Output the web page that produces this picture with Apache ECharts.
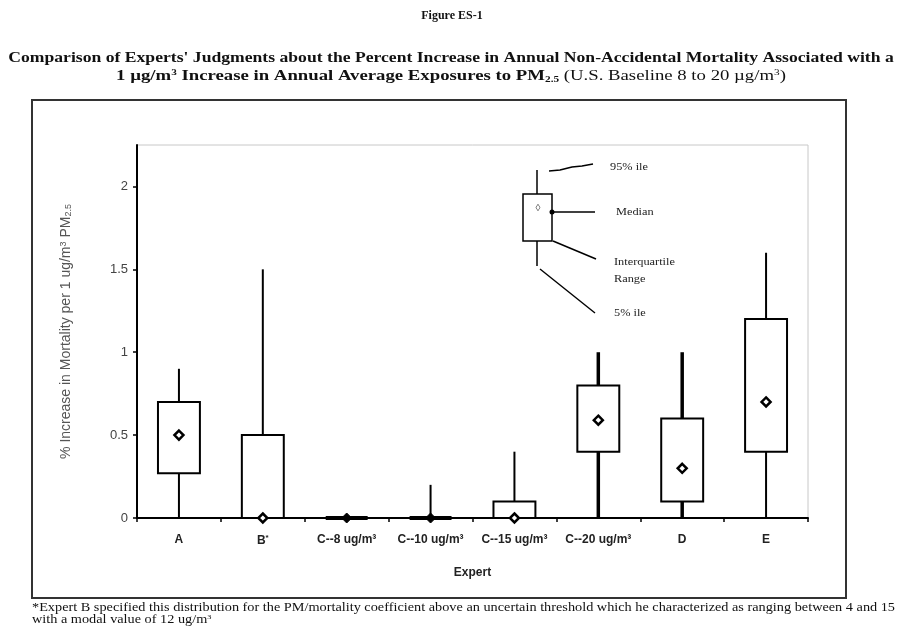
<!DOCTYPE html>
<html>
<head>
<meta charset="utf-8">
<title>Figure ES-1</title>
<script src="https://cdn.jsdelivr.net/npm/echarts@6/dist/echarts.min.js"></script>
<style>
html, body { margin: 0; padding: 0; background: #fff; }
#main { width: 902px; height: 627px; }
</style>
</head>
<body>
<div id="main"></div>
<script>
// experts and their distributions (% increase per 1 ug/m3 PM2.5)
var experts = ['A', 'B*', 'C--8 ug/m³', 'C--10 ug/m³', 'C--15 ug/m³', 'C--20 ug/m³', 'D', 'E'];
var pct05   = [0,    0,   0, 0,   0,   0,    0,   0];
var pct25   = [0.27, 0,   0, 0,   0,   0.4,  0.1, 0.4];
var median  = [0.5,  0,   0, 0,   0,   0.59, 0.3, 0.7];
var pct75   = [0.7,  0.5, 0, 0,   0.1, 0.8,  0.6, 1.2];
var pct95   = [0.9,  1.5, 0, 0.2, 0.4, 1.0,  1.0, 1.6];
var yTicks  = [0, 0.5, 1, 1.5, 2];

// whiskers drawn heavier in the original
var thickWhiskers = ['C--20 ug/m³', 'D'];

var boxData = [];
for (var i = 0; i < experts.length; i++) {
    boxData.push([i, pct05[i], pct25[i], median[i], pct75[i], pct95[i]]);
}

function diamond(cx, cy, r) {
    return [[cx, cy - r], [cx + r, cy], [cx, cy + r], [cx - r, cy]];
}

function renderBox(params, api) {
    var i = api.value(0);
    var half = api.size([1, 0])[0] * 0.25;
    var x = api.coord([i, 0])[0];
    var yLo = api.coord([i, api.value(1)])[1];
    var yQ1 = api.coord([i, api.value(2)])[1];
    var yMed = api.coord([i, api.value(3)])[1];
    var yQ3 = api.coord([i, api.value(4)])[1];
    var yHi = api.coord([i, api.value(5)])[1];
    var wl = thickWhiskers.indexOf(experts[i]) >= 0 ? 3.5 : 2;
    var flat = api.value(2) === api.value(4);
    var kids = [];
    kids.push({ type: 'line', shape: { x1: x, y1: yLo, x2: x, y2: yQ1 }, style: { stroke: '#000', lineWidth: wl } });
    kids.push({ type: 'line', shape: { x1: x, y1: yQ3, x2: x, y2: yHi }, style: { stroke: '#000', lineWidth: wl } });
    if (flat) {
        kids.push({ type: 'line', shape: { x1: x - half, y1: yQ1, x2: x + half, y2: yQ1 }, style: { stroke: '#000', lineWidth: 4 } });
        kids.push({ type: 'polygon', shape: { points: diamond(x, yMed, 5) }, style: { fill: '#000', stroke: '#000', lineWidth: 1 } });
    } else {
        kids.push({ type: 'rect', shape: { x: x - half, y: yQ3, width: half * 2, height: yQ1 - yQ3 }, style: { fill: '#fff', stroke: '#000', lineWidth: 2 } });
        kids.push({ type: 'polygon', shape: { points: diamond(x, yMed, 4.5) }, style: { fill: '#fff', stroke: '#000', lineWidth: 2.5 } });
    }
    return { type: 'group', children: kids };
}

var serif = '"Liberation Serif", "Times New Roman", serif';
var sans = '"Liberation Sans", Arial, sans-serif';

function keyText(x, y, s) {
    return { type: 'text', x: x, y: y, scaleX: 1.12, style: { text: s, font: '11px ' + serif, textVerticalAlign: 'middle', fill: '#222' } };
}

var myChart = echarts.init(document.getElementById('main'));
var option = {
    backgroundColor: '#fff',
    animation: false,
    grid: {
        left: 137, right: 94, top: 145, bottom: 109,
        show: true, borderColor: '#c8c8c8', borderWidth: 1, backgroundColor: 'transparent'
    },
    xAxis: {
        type: 'category',
        data: experts,
        boundaryGap: true,
        axisLine: { lineStyle: { color: '#000', width: 2 } },
        axisTick: { show: true, length: 4, lineStyle: { color: '#000', width: 1.5 } },
        axisLabel: {
            interval: 0, hideOverlap: false,
            margin: 16, color: '#222', fontFamily: sans, fontWeight: 'bold', fontSize: 12,
            formatter: function (v) { return v.replace('*', '{sup|*}'); },
            rich: { sup: { fontSize: 8, fontWeight: 'bold', verticalAlign: 'top', padding: [0, 0, 5, 0], fontFamily: sans, color: '#222' } }
        },
        name: 'Expert',
        nameLocation: 'middle',
        nameGap: 49,
        nameTextStyle: { fontFamily: sans, fontWeight: 'bold', fontSize: 12, color: '#222' }
    },
    yAxis: {
        type: 'value',
        min: 0,
        max: 2.25,
        splitLine: { show: false },
        axisLine: { show: true, lineStyle: { color: '#000', width: 2 } },
        axisTick: { show: true, length: 4, customValues: yTicks, lineStyle: { color: '#000', width: 1.5 } },
        axisLabel: { customValues: yTicks, margin: 9, fontFamily: sans, fontSize: 13, color: '#444' },
        name: '% Increase in Mortality per 1 ug/m{sup|3} PM{sub|2.5}',
        nameLocation: 'middle',
        nameGap: 64,
        nameTextStyle: {
            fontFamily: sans, fontSize: 14, color: '#555',
            rich: {
                sup: { fontSize: 9, verticalAlign: 'top', padding: [0, 0, 5, 0], color: '#555', fontFamily: sans },
                sub: { fontSize: 9, verticalAlign: 'bottom', padding: [5, 0, 0, 0], color: '#555', fontFamily: sans }
            }
        }
    },
    series: [{
        type: 'custom',
        renderItem: renderBox,
        encode: { x: 0, y: [1, 2, 3, 4, 5] },
        data: boxData,
        z: 5
    }],
    graphic: [
        // outer frame
        { type: 'rect', shape: { x: 32, y: 100, width: 814, height: 498 }, style: { fill: 'none', stroke: '#333', lineWidth: 2 }, silent: true },
        // headings
        { type: 'text', x: 452, y: 16, style: { text: 'Figure ES-1', font: 'bold 12px ' + serif, textAlign: 'center', textVerticalAlign: 'middle', fill: '#111' } },
        { type: 'text', x: 451, y: 58, scaleX: 1.175, style: {
            text: 'Comparison of Experts\' Judgments about the Percent Increase in Annual Non-Accidental Mortality Associated with a',
            font: 'bold 15px ' + serif, textAlign: 'center', textVerticalAlign: 'middle', fill: '#111' } },
        { type: 'text', x: 451, y: 76, scaleX: 1.25, style: {
            text: '{b|1 µg/m}{bs|3}{b| Increase in Annual Average Exposures to PM}{bsub|2.5}{n| (U.S. Baseline 8 to 20 µg/m}{ns|3}{n|)}',
            textAlign: 'center', textVerticalAlign: 'middle', fill: '#111',
            rich: {
                b: { font: 'bold 15px ' + serif, fill: '#111' },
                bs: { font: 'bold 9px ' + serif, verticalAlign: 'top', padding: [0, 0, 7, 0], fill: '#111' },
                bsub: { font: 'bold 9px ' + serif, verticalAlign: 'bottom', padding: [7, 0, 0, 0], fill: '#111' },
                n: { font: '15px ' + serif, fill: '#111' },
                ns: { font: '9px ' + serif, verticalAlign: 'top', padding: [0, 0, 7, 0], fill: '#111' }
            } } },
        // footnote
        { type: 'text', x: 32, y: 608, scaleX: 1.19, style: {
            text: '*Expert B specified this distribution for the PM/mortality coefficient above an uncertain threshold which he characterized as ranging between 4 and 15',
            font: '12px ' + serif, textAlign: 'left', textVerticalAlign: 'middle', fill: '#111' } },
        { type: 'text', x: 32, y: 620, scaleX: 1.19, style: {
            text: '{n|with a modal value of 12 ug/m}{s|3}',
            textAlign: 'left', textVerticalAlign: 'middle',
            rich: { n: { font: '12px ' + serif, fill: '#111' }, s: { font: '7px ' + serif, verticalAlign: 'top', padding: [0, 0, 5, 0], fill: '#111' } } } },
        // key glyph
        { type: 'line', shape: { x1: 537, y1: 170, x2: 537, y2: 194 }, style: { stroke: '#000', lineWidth: 1.5 } },
        { type: 'rect', shape: { x: 523, y: 194, width: 29, height: 47 }, style: { fill: '#fff', stroke: '#000', lineWidth: 1.5 } },
        { type: 'line', shape: { x1: 537, y1: 241, x2: 537, y2: 266 }, style: { stroke: '#000', lineWidth: 1.5 } },
        { type: 'text', x: 538, y: 208, style: { text: '◊', font: '10px ' + sans, textAlign: 'center', textVerticalAlign: 'middle', fill: '#555' } },
        { type: 'circle', shape: { cx: 552, cy: 212, r: 2.5 }, style: { fill: '#000' } },
        { type: 'polyline', shape: { points: [[549, 171], [560, 170], [572, 167], [582, 166], [593, 164]] }, style: { stroke: '#000', lineWidth: 1.5, fill: 'none' } },
        { type: 'line', shape: { x1: 552, y1: 212, x2: 595, y2: 212 }, style: { stroke: '#000', lineWidth: 1.5 } },
        { type: 'line', shape: { x1: 553, y1: 241, x2: 596, y2: 259 }, style: { stroke: '#000', lineWidth: 1.5 } },
        { type: 'line', shape: { x1: 540, y1: 269, x2: 595, y2: 313 }, style: { stroke: '#000', lineWidth: 1.5 } },
        keyText(610, 167, '95% ile'),
        keyText(616, 212, 'Median'),
        keyText(614, 262, 'Interquartile'),
        keyText(614, 279, 'Range'),
        keyText(614, 313, '5% ile')
    ]
};
myChart.setOption(option);
</script>
</body>
</html>
